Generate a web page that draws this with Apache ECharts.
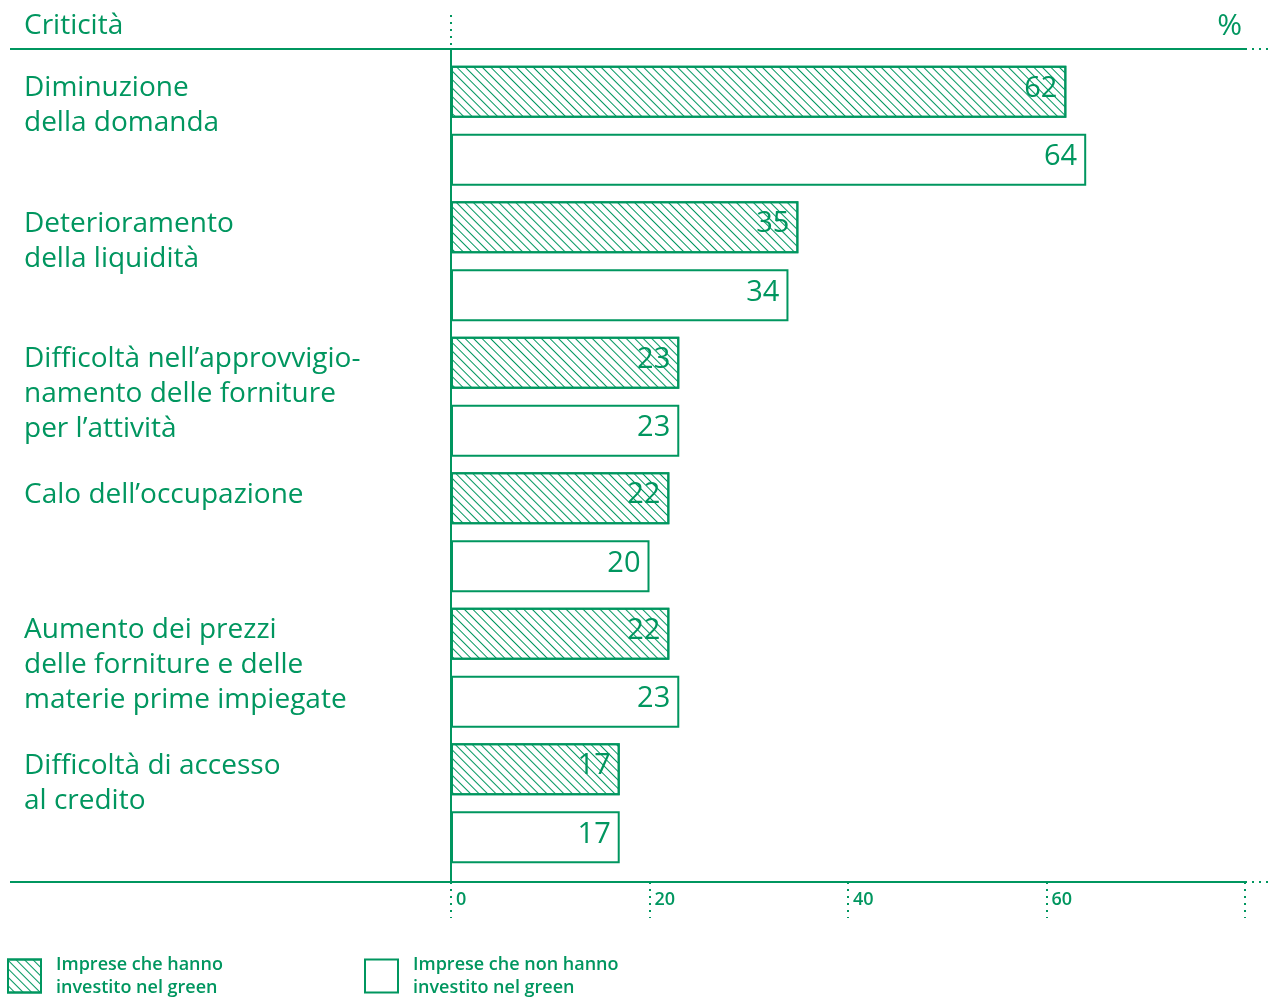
<!DOCTYPE html>
<html>
<head>
<meta charset="utf-8">
<script src="https://cdn.jsdelivr.net/npm/echarts@6/dist/echarts.min.js"></script>
<style>
html,body{margin:0;padding:0;background:#fff;}
#c{width:1270px;height:998px;}
</style>
</head>
<body>
<div id="c"></div>
<script>
const categories = [
  'Diminuzione\ndella domanda',
  'Deterioramento\ndella liquidità',
  'Difficoltà nell’approvvigio-\nnamento delle forniture\nper l’attività',
  'Calo dell’occupazione',
  'Aumento dei prezzi\ndelle forniture e delle\nmaterie prime impiegate',
  'Difficoltà di accesso\nal credito'
];
const seriesNames = ['Imprese che hanno\ninvestito nel green', 'Imprese che non hanno\ninvestito nel green'];
const greenValues = [62, 35, 23, 22, 22, 17];
const nonGreenValues = [64, 34, 23, 20, 23, 17];
const xTickLabels = ['0', '20', '40', '60'];

const GREEN = '#00965f';
const FONT = "'Open Sans', Roboto, sans-serif";

const chart = echarts.init(document.getElementById('c'), null, {renderer: 'canvas'});

const valueLabel = {
  show: true, position: 'insideRight', distance: 9, offset: [0, -3],
  color: GREEN, fontSize: 29, fontFamily: FONT
};

const option = {
  animation: false,
  backgroundColor: '#fff',
  title: [
    {text: 'Criticità', left: 24, top: 12, padding: 0, textStyle: {color: GREEN, fontSize: 28, fontWeight: 'normal', fontFamily: FONT}},
    {text: '%', right: 28, top: 11, padding: 0, textStyle: {color: GREEN, fontSize: 30, fontWeight: 'normal', fontFamily: FONT}}
  ],
  legend: {
    left: 7, top: 953, itemWidth: 33, itemHeight: 33, itemGap: 10, padding: 0,
    icon: 'rect',
    data: seriesNames,
    textStyle: {color: GREEN, fontSize: 18, fontWeight: 600, fontFamily: FONT, lineHeight: 23, width: 298, padding: [0, 0, 0, 10]}
  },
  grid: {left: 451, right: 25, top: 58, bottom: 127, containLabel: false},
  xAxis: {
    type: 'value', min: 0, max: 80, interval: 20, offset: 11,
    axisLine: {show: true, lineStyle: {color: GREEN, width: 2}},
    axisTick: {show: true, length: 36, lineStyle: {color: GREEN, width: 2, type: [2, 5]}},
    splitLine: {show: false},
    axisLabel: {
      color: GREEN, fontSize: 18, fontWeight: 600, fontFamily: FONT, align: 'left',
      margin: 9, verticalAlign: 'top', padding: [0, 0, 0, 5],
      formatter: v => xTickLabels.includes(String(v)) ? String(v) : ''
    }
  },
  yAxis: {
    type: 'category', inverse: true, data: categories,
    axisLine: {show: false}, axisTick: {show: false},
    axisLabel: {
      align: 'left', margin: 427, verticalAlign: 'top', padding: [-55, 0, 0, 0],
      color: GREEN, fontSize: 28, lineHeight: 35, fontFamily: FONT
    }
  },
  series: [
    {
      name: seriesNames[0], type: 'bar', data: greenValues, barWidth: 52, barGap: '31%',
      itemStyle: {
        color: '#fff', borderColor: GREEN, borderWidth: 2,
        decal: {symbol: 'rect', symbolSize: 1, dashArrayX: [1, 0], dashArrayY: [1, 4.8], rotation: Math.PI / 4, color: GREEN}
      },
      label: valueLabel
    },
    {
      name: seriesNames[1], type: 'bar', data: nonGreenValues, barWidth: 52, barGap: '31%',
      itemStyle: {color: '#fff', borderColor: GREEN, borderWidth: 2},
      label: valueLabel
    }
  ]
};
chart.setOption(option);

// frame decoration
const x0 = chart.convertToPixel({xAxisIndex: 0}, 0);
const xEnd = chart.convertToPixel({xAxisIndex: 0}, 80);
const topY = 49, botY = 882;
const solid = {stroke: GREEN, lineWidth: 2};
const dotted = {stroke: GREEN, lineWidth: 2, lineDash: [2, 5]};
chart.setOption({
  graphic: [
    {type: 'line', shape: {x1: 10, y1: topY, x2: xEnd, y2: topY}, style: solid, z: 10},
    {type: 'line', shape: {x1: xEnd, y1: topY, x2: 1270, y2: topY}, style: dotted, z: 10},
    {type: 'line', shape: {x1: 10, y1: botY, x2: xEnd, y2: botY}, style: solid, z: 10},
    {type: 'line', shape: {x1: xEnd, y1: botY, x2: 1270, y2: botY}, style: dotted, z: 10},
    {type: 'line', shape: {x1: x0, y1: topY, x2: x0, y2: botY}, style: solid, z: 10},
    {type: 'line', shape: {x1: x0, y1: 15, x2: x0, y2: topY}, style: dotted, z: 10}
  ]
});
</script>
</body>
</html>
